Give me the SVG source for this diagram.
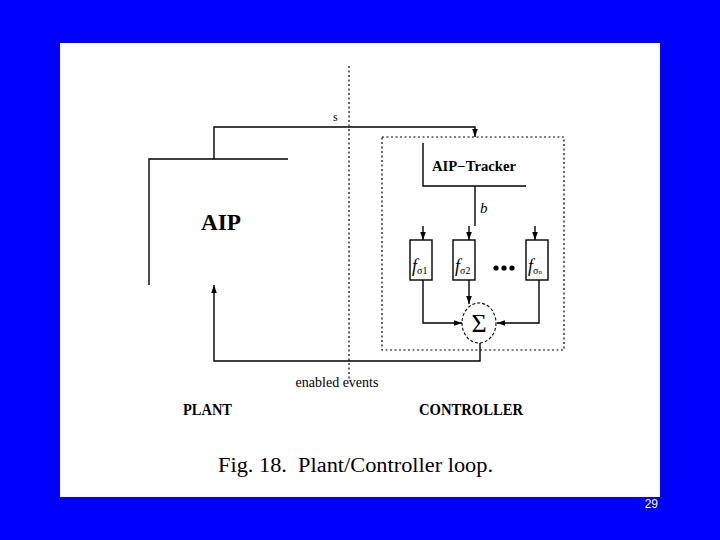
<svg xmlns="http://www.w3.org/2000/svg" width="720" height="540" viewBox="0 0 720 540">
<style>
.ln{stroke:#000;stroke-width:1.4;fill:none}
.dot{stroke:#000;stroke-width:1.2;fill:none;stroke-dasharray:2 2.5}
.ser{font-family:"Liberation Serif",serif;fill:#000}
.b{font-weight:bold}
.i{font-style:italic}
</style>
<defs>
<marker id="ah" viewBox="0 0 8 8" refX="8" refY="4" markerWidth="8" markerHeight="8" markerUnits="userSpaceOnUse" orient="auto">
<path d="M0,1.2 L8,4 L0,6.8 Z" fill="#000"/>
</marker>
</defs>
<rect x="0" y="0" width="720" height="540" fill="#0000ff"/>
<rect x="60" y="43" width="600" height="454" fill="#fff"/>
<g id="divider">
<line class="dot" x1="349" y1="66" x2="349" y2="380"/>
</g>
<g id="controller-box">
<rect class="dot" x="382" y="137" width="182" height="213"/>
</g>
<g id="aip">
<path class="ln" d="M149,285 V159 H288"/>
<text class="ser b" x="221" y="230" font-size="24" text-anchor="middle" textLength="40" lengthAdjust="spacingAndGlyphs">AIP</text>
</g>
<g id="aip-tracker">
<path class="ln" d="M423,143 V186 H526"/>
<text class="ser b" x="432" y="171" font-size="14" textLength="84" lengthAdjust="spacingAndGlyphs">AIP−Tracker</text>
</g>
<g id="f1">
<rect class="ln" x="410" y="240" width="22" height="40"/>
<text class="ser i" x="412" y="272" font-size="18">f</text>
<text class="ser" x="417" y="274" font-size="10">σ1</text>
</g>
<g id="f2">
<rect class="ln" x="453" y="240" width="22" height="40"/>
<text class="ser i" x="455" y="272" font-size="18">f</text>
<text class="ser" x="460" y="274" font-size="10">σ2</text>
</g>
<g id="dots">
<circle cx="496" cy="268" r="2.6" fill="#000"/>
<circle cx="504" cy="268" r="2.6" fill="#000"/>
<circle cx="512" cy="268" r="2.6" fill="#000"/>
</g>
<g id="fn">
<rect class="ln" x="526" y="240" width="22" height="40"/>
<text class="ser i" x="528" y="272" font-size="18">f</text>
<text class="ser" x="533" y="274" font-size="10">σ<tspan font-size="7">n</tspan></text>
</g>
<g id="sum">
<ellipse cx="479" cy="323" rx="17" ry="20" fill="none" stroke="#000" stroke-width="1.1" stroke-dasharray="3 2"/>
<text class="ser" x="479" y="332" font-size="26" text-anchor="middle">Σ</text>
</g>
<g id="connectors">
<path class="ln" d="M214,159 V127 H475 V137" marker-end="url(#ah)"/>
<path class="ln" d="M475,186 V226"/>
<line class="ln" x1="423" y1="226" x2="423" y2="240" marker-end="url(#ah)"/>
<line class="ln" x1="469" y1="226" x2="469" y2="240" marker-end="url(#ah)"/>
<line class="ln" x1="535" y1="226" x2="535" y2="240" marker-end="url(#ah)"/>
<line class="ln" x1="469" y1="280" x2="469" y2="304" marker-end="url(#ah)"/>
<path class="ln" d="M423,280 V323 H462" marker-end="url(#ah)"/>
<path class="ln" d="M539,280 V323 H497" marker-end="url(#ah)"/>
<path class="ln" d="M480,343 V361 H214 V285" marker-end="url(#ah)"/>
</g>
<g id="labels">
<text class="ser" x="333" y="121" font-size="12">s</text>
<text class="ser i" x="480" y="213" font-size="15">b</text>
<text class="ser" x="337" y="387" font-size="14" text-anchor="middle">enabled events</text>
<text class="ser b" x="183" y="415" font-size="17" textLength="49" lengthAdjust="spacingAndGlyphs">PLANT</text>
<text class="ser b" x="419" y="415" font-size="17" textLength="104" lengthAdjust="spacingAndGlyphs">CONTROLLER</text>
<text class="ser" x="218" y="472" font-size="20" textLength="275" lengthAdjust="spacingAndGlyphs" xml:space="preserve">Fig. 18.  Plant/Controller loop.</text>
<text x="658" y="508" font-family="Liberation Sans, sans-serif" font-size="12" fill="#fff" text-anchor="end">29</text>
</g>
</svg>
